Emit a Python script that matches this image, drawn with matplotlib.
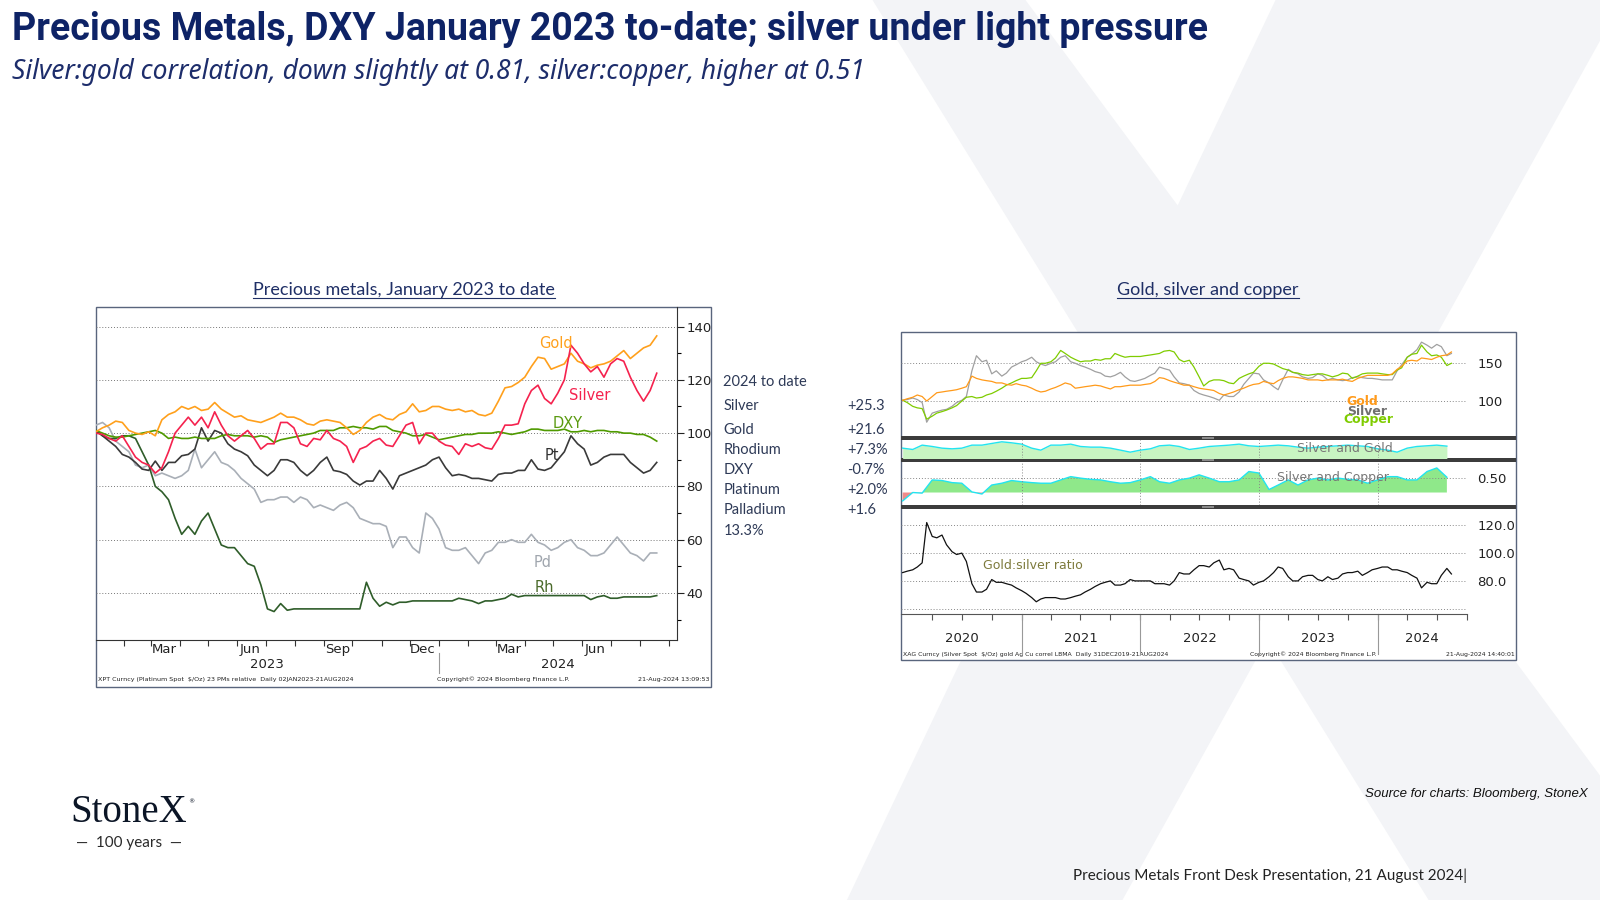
import matplotlib
matplotlib.use("Agg")
import matplotlib.pyplot as plt
import matplotlib.transforms as mtransforms
from matplotlib.patches import Rectangle, Polygon
import pandas as pd

# ---------------- data ----------------
# left chart: weekly, rebased to 100 on 2 Jan 2023
weeks = pd.date_range("2023-01-02", periods=86, freq="7D")

gold_23 = [100.5, 102, 103, 104.5, 104, 101, 100, 99.5, 100.5, 99,
           105, 107, 108, 110, 109, 110, 108.5, 109, 111.5, 109,
           107.5, 106, 106.5, 105, 104.5, 104, 105, 106, 107.5, 106,
           106, 105, 103.5, 103, 104.5, 105, 104.5, 104, 102, 99.5,
           101, 104, 106, 107, 105.5, 105, 107, 108, 111, 108,
           108.5, 110, 110, 109, 108.5, 109, 108, 108.5, 107, 106.5,
           107.5, 112, 117, 117.5, 119, 121, 125, 128.5, 128, 124,
           125, 126, 130, 127, 126, 124.5, 125.5, 126, 127, 129,
           131, 128, 130, 132, 133, 136.5]
silver_23 = [100, 99.5, 98, 97, 99, 95, 91, 89, 88, 85,
             87, 93, 100, 103, 106, 103, 106, 102, 108, 103,
             99, 97, 99, 101, 98, 94, 96, 96, 104, 104,
             102, 96, 95, 98, 97.5, 101, 98, 97, 95, 89,
             94, 95, 97, 98, 95.5, 95, 99, 103, 104, 96,
             100, 100, 97, 95.5, 95, 92, 96, 95, 96, 94.5,
             94, 98, 103, 103, 103.5, 111, 116, 118, 113, 111,
             115, 120, 133, 130, 126, 123, 125, 121, 126, 128,
             127, 121, 116, 112, 116, 122.5]
dxy_23 = [101, 100, 99, 98.5, 98.5, 99, 99.5, 100, 100.5, 101,
          100, 98, 98.5, 98, 98, 98.5, 98, 98, 98, 99,
          99.5, 99, 99, 99, 98.5, 99, 98.5, 96.5, 97.5, 98,
          98.5, 99, 99.5, 100, 101, 101, 101, 102, 102, 102.5,
          102, 102, 101.5, 102.5, 102.5, 101, 100.5, 100, 99, 99,
          99.5, 98.5, 97.5, 98, 98.5, 99, 99.5, 99.5, 100, 100,
          100, 100.5, 100, 99.5, 100, 100.5, 101.5, 101.5, 101, 101,
          101, 101.5, 100.5, 100.5, 101, 100.5, 101, 101, 100.5, 100.5,
          100, 100, 99.5, 99.5, 98.5, 97]
pt_23 = [101, 99, 97, 95, 92, 91, 89, 86.5, 86, 89.5,
         86, 89, 89, 91.5, 92, 94, 102, 97, 101, 100,
         96, 94, 93, 91.5, 88, 86, 84, 86, 90, 90,
         89, 86, 84, 86, 89, 91, 86, 85.5, 84.5, 82,
         80.5, 82, 82, 86, 83, 79, 84, 85, 86, 87,
         88, 90, 91, 87, 84, 84.5, 84, 83, 83, 82.5,
         82, 84.5, 85, 85, 86, 86, 90, 86.5, 86, 87,
         90, 93, 99, 96, 94, 88, 89, 91, 92, 92,
         92, 89, 87, 85, 86, 89]
pd_23 = [103, 104, 102, 97, 95, 93, 88, 87, 88, 84,
         85, 84, 83, 84, 86, 94, 87, 90, 93, 89,
         88, 86, 83, 81, 79, 74, 75, 75, 76, 76,
         74, 76, 75, 72, 73, 72, 71, 73, 74, 72,
         68, 67, 66, 66, 65, 57, 61, 61, 57, 55,
         70, 68, 64, 57, 56, 56, 57, 54, 51, 55,
         56, 59, 59, 60, 59, 59, 62, 59, 58, 56,
         57, 59, 60, 57, 56, 54, 54, 55, 58, 61,
         58, 55, 54, 52, 55, 55]
rh_23 = [101, 99, 98, 98, 99, 99, 98, 93, 88, 80,
         78, 75, 68, 62, 65, 62, 67, 70, 64, 58,
         57, 57, 54, 51, 50, 43, 34, 33, 36, 33.5,
         34, 34, 34, 34, 34, 34, 34, 34, 34, 34,
         34, 44, 38, 35, 36.5, 35.5, 36.5, 36.5, 37, 37,
         37, 37, 37, 37, 37, 38, 37.5, 37, 36, 37,
         37, 37.5, 38, 39.5, 38.5, 39, 39, 39, 39, 39,
         39, 39, 39, 39, 39, 37.5, 38.5, 39, 38, 38,
         38.5, 38.5, 38.5, 38.5, 38.5, 39]

ytd_names = ["2024 to date", "Silver", "Gold", "Rhodium", "DXY",
             "Platinum", "Palladium", "13.3%"]
ytd_values = ["", "+25.3", "+21.6", "+7.3%", "-0.7%", "+2.0%", "+1.6", ""]

month_lbl_dates = ["2023-03-15", "2023-06-15", "2023-09-15",
                   "2023-12-15", "2024-03-15", "2024-06-15"]
month_lbls = ["Mar", "Jun", "Sep", "Dec", "Mar", "Jun"]
year_lbl_dates_l = ["2023-07-02", "2024-05-06"]
year_lbls_l = ["2023", "2024"]

# right chart: semi-monthly, rebased to 100 on 31 Dec 2019
semi = pd.date_range("2020-01-01", "2024-08-15", freq="SMS")

gold_r = [101, 103, 105, 108, 106, 100, 106, 111, 112, 113,
          114, 115, 117, 119, 133, 130, 128, 127, 126, 124,
          124, 122, 121, 123, 121, 120, 117, 114, 112, 113,
          116, 118, 121, 124, 122, 117, 118, 119, 120, 121,
          120, 118, 116, 119, 119, 120, 121, 121, 121, 122,
          123, 126, 131, 130, 127, 125, 123, 121, 121, 119,
          117, 116, 115, 114, 110, 108, 110, 112, 115, 117,
          120, 122, 123, 126, 124, 123, 127, 130, 132, 132,
          131, 130, 128, 128, 128, 127, 128, 128, 128, 129,
          127, 126, 130, 132, 134, 134, 134, 134, 134, 136,
          142, 146, 153, 154, 153, 157, 156, 155, 158, 160,
          161, 165]
silver_r = [101, 102, 104, 102, 98, 72, 84, 86, 88, 89,
            93, 98, 101, 106, 140, 160, 152, 154, 136, 140,
            133, 137, 145, 148, 152, 154, 158, 152, 149, 147,
            150, 152, 158, 160, 152, 150, 147, 145, 142, 139,
            137, 133, 132, 134, 138, 132, 127, 126, 128, 130,
            134, 137, 145, 143, 141, 132, 124, 123, 121, 114,
            110, 108, 106, 104, 101, 108, 106, 106, 112, 122,
            130, 137, 136, 128, 124, 119, 115, 128, 142, 138,
            136, 132, 130, 131, 136, 134, 128, 130, 128, 127,
            128, 131, 132, 131, 130, 130, 129, 128, 128, 128,
            140, 148, 158, 162, 168, 178, 174, 170, 175, 172,
            160, 163]
copper_r = [101, 98, 93, 91, 90, 76, 80, 84, 86, 88,
            91, 94, 100, 105, 106, 104, 105, 108, 110, 113,
            117, 121, 124, 127, 130, 130, 131, 140, 150, 150,
            152, 157, 167, 163, 158, 155, 152, 153, 153, 155,
            154, 156, 156, 163, 160, 158, 159, 159, 159, 160,
            161, 162, 163, 166, 167, 165, 155, 152, 154, 145,
            132, 120, 126, 128, 128, 127, 124, 123, 130, 133,
            136, 138, 146, 150, 150, 149, 146, 143, 141, 138,
            137, 135, 134, 135, 136, 136, 134, 132, 134, 137,
            136, 130, 133, 136, 137, 137, 137, 136, 135, 135,
            141, 144, 158, 162, 163, 174, 165, 160, 161, 158,
            147, 150]
ratio_r = [86, 87, 88, 90, 93, 122, 112, 111, 113, 106,
           101, 99, 100, 94, 78, 72, 72, 74, 81, 79,
           79, 78, 77, 75, 73, 71, 68, 65, 67, 68,
           68, 68, 67, 67, 68, 69, 70, 72, 74, 76,
           78, 79, 80, 77, 77, 78, 81, 80, 80, 80,
           80, 78, 78, 78, 77, 80, 86, 85, 85, 88,
           91, 91, 90, 93, 95, 88, 89, 88, 82, 81,
           80, 77, 79, 80, 83, 86, 90, 89, 83, 80,
           80, 83, 84, 84, 81, 80, 83, 81, 82, 85,
           86, 86, 87, 84, 86, 88, 89, 90, 90, 88,
           88, 87, 86, 84, 82, 75, 79, 78, 78, 84,
           89, 85]

# rolling correlations, monthly
months = pd.date_range("2020-01-01", periods=56, freq="MS")
corr_sg = [0.75, 0.71, 0.84, 0.80, 0.75, 0.73, 0.75, 0.84, 0.84, 0.89,
           0.94, 0.91, 0.87, 0.75, 0.69, 0.84, 0.84, 0.87, 0.80, 0.78,
           0.78, 0.75, 0.69, 0.63, 0.69, 0.73, 0.82, 0.84, 0.80, 0.71,
           0.75, 0.80, 0.82, 0.84, 0.87, 0.82, 0.80, 0.82, 0.84, 0.82,
           0.78, 0.75, 0.78, 0.80, 0.82, 0.84, 0.82, 0.80, 0.73, 0.69,
           0.63, 0.75, 0.80, 0.82, 0.84, 0.81]
corr_sc = [-0.28, 0.00, -0.02, 0.42, 0.40, 0.33, 0.31, 0.02, -0.05, 0.25,
           0.31, 0.40, 0.36, 0.33, 0.31, 0.31, 0.42, 0.53, 0.48, 0.44,
           0.42, 0.36, 0.31, 0.33, 0.42, 0.53, 0.36, 0.31, 0.42, 0.48,
           0.59, 0.48, 0.36, 0.36, 0.42, 0.70, 0.65, 0.10, 0.25, 0.42,
           0.25, 0.42, 0.48, 0.42, 0.48, 0.44, 0.42, 0.31, 0.42, 0.53,
           0.53, 0.42, 0.42, 0.70, 0.82, 0.51]

year_starts_r = ["2021-01-01", "2022-01-01", "2023-01-01", "2024-01-01"]
year_lbl_dates_r = ["2020-07-01", "2021-07-02", "2022-07-02", "2023-07-02", "2024-05-17"]
year_lbls_r = ["2020", "2021", "2022", "2023", "2024"]

# ---------------- layout helpers ----------------
W, H = 1568, 882          # layout measured in slide pixels


def box(x0, y0, x1, y1):
    return [x0 / W, 1 - y1 / H, (x1 - x0) / W, (y1 - y0) / H]


NAVY = "#0e2366"
BBG = "DejaVu Sans"
SLIDE = "Lato"

fig = plt.figure(figsize=(16, 9), dpi=100)
bg = fig.add_axes([0, 0, 1, 1])
bg.set_xlim(0, W)
bg.set_ylim(H, 0)
bg.axis("off")

# faint StoneX "X" in the background
bg.add_patch(Polygon([(855, 0), (1005, 0), (1568, 760), (1568, 882), (1400, 882)],
                     closed=True, fc="#f3f4f7", ec="none", zorder=0))
bg.add_patch(Polygon([(1250, 0), (1568, 0), (1568, 40), (1100, 882), (830, 882)],
                     closed=True, fc="#f3f4f7", ec="none", zorder=0))

# titles
bg.text(12, 39, "Precious Metals, DXY January 2023 to-date; silver under light pressure",
        family="Roboto", weight="bold", fontsize=27, color=NAVY, va="baseline")
bg.text(12, 77, "Silver:gold correlation, down slightly at 0.81, silver:copper, higher at 0.51",
        family="Noto Sans", style="italic", fontsize=19, color="#1d2d6b", va="baseline")

t_left = bg.text(396, 289, "Precious metals, January 2023 to date", family=SLIDE,
                 fontsize=13, color="#1f2f66", ha="center", va="baseline")
t_right = bg.text(1184, 289, "Gold, silver and copper", family=SLIDE,
                  fontsize=13, color="#1f2f66", ha="center", va="baseline")

# chart frames
bg.add_patch(Rectangle((94, 301), 603, 372, fc="white", ec="#59657d", lw=1, zorder=1))
bg.add_patch(Rectangle((883, 325), 603, 322, fc="white", ec="#59657d", lw=1, zorder=1))

# ytd block
ytd_rows = [374, 398, 421, 441, 461, 480, 500, 520]
for yy, name, val in zip(ytd_rows, ytd_names, ytd_values):
    bg.text(709, yy, name, family=SLIDE, fontsize=10.5, color="#2e3a57", va="center")
    if val:
        bg.text(830, yy, val, family=SLIDE, fontsize=10.5, color="#2e3a57", va="center")

# ---------------- left chart ----------------
axL = fig.add_axes(box(94, 301, 663, 627))
axL.set_facecolor("none")
axL.spines["left"].set_visible(False)
axL.spines["top"].set_visible(False)
axL.spines["right"].set_color("#333333")
axL.spines["bottom"].set_color("#333333")
axL.plot(weeks, pd_23, color="#a9afb7", lw=1.2)
axL.plot(weeks, rh_23, color="#2f5d2a", lw=1.2)
axL.plot(weeks, pt_23, color="#3a3a3a", lw=1.2)
axL.plot(weeks, dxy_23, color="#4f9a00", lw=1.2)
axL.plot(weeks, gold_23, color="#ffa01c", lw=1.2)
axL.plot(weeks, silver_23, color="#f5224e", lw=1.2)

axL.set_xlim(pd.Timestamp("2023-01-02"), pd.Timestamp("2024-09-09"))
axL.set_ylim(22.4, 147.3)
axL.yaxis.tick_right()
axL.set_yticks([40, 60, 80, 100, 120, 140])
axL.set_yticks([30, 50, 70, 90, 110, 130], minor=True)
axL.tick_params(axis="y", which="major", length=5, width=0.8, labelsize=9.5, pad=2,
                colors="#222222")
axL.tick_params(axis="y", which="minor", length=3, width=0.8)
axL.yaxis.grid(True, which="major", linestyle=(0, (1, 2)), color="#777777", lw=0.7)
axL.set_xticks(pd.date_range("2023-02-01", "2024-09-01", freq="MS"))
axL.set_xticklabels([])
axL.tick_params(axis="x", length=4, width=0.8, color="#333333")

trL = mtransforms.blended_transform_factory(axL.transData, axL.transAxes)
for d, lab in zip(month_lbl_dates, month_lbls):
    axL.text(pd.Timestamp(d), -0.03, lab, transform=trL, ha="center", va="center",
             family=BBG, fontsize=9.5, color="#222222")
for d, lab in zip(year_lbl_dates_l, year_lbls_l):
    axL.text(pd.Timestamp(d), -0.074, lab, transform=trL, ha="center", va="center",
             family=BBG, fontsize=9.5, color="#222222")
axL.plot([pd.Timestamp("2024-01-01")] * 2, [-0.04, -0.10], transform=trL,
         color="#999999", lw=0.8, clip_on=False)

lbl = dict(transform=axL.transAxes, family=BBG, fontsize=10.5, ha="center", va="center")
axL.text(0.793, 0.89, "Gold", color="#ffa01c", **lbl)
axL.text(0.851, 0.733, "Silver", color="#f5224e", **lbl)
axL.text(0.812, 0.650, "DXY", color="#5a9a10", **lbl)
axL.text(0.786, 0.555, "Pt", color="#333333", **lbl)
axL.text(0.770, 0.233, "Pd", color="#a0a6ae", **lbl)
axL.text(0.773, 0.156, "Rh", color="#4a6a2a", **lbl)

bg.text(96, 666, "XPT Curncy (Platinum Spot  $/Oz) 23 PMs relative  Daily 02JAN2023-21AUG2024",
        family=BBG, fontsize=4.6, color="#222222", va="center")
bg.text(428, 666, "Copyright\u00a9 2024 Bloomberg Finance L.P.", family=BBG, fontsize=4.6,
        color="#222222", va="center")
bg.text(695, 666, "21-Aug-2024 13:09:53", family=BBG, fontsize=4.6, color="#222222",
        va="center", ha="right")

# ---------------- right chart ----------------
x_lo, x_hi = pd.Timestamp("2019-12-27"), pd.Timestamp("2024-10-03")
ax1 = fig.add_axes(box(883, 325, 1438, 427))
ax2 = fig.add_axes(box(883, 431, 1438, 449))
ax3 = fig.add_axes(box(883, 453, 1438, 495))
ax4 = fig.add_axes(box(883, 499, 1438, 602))
for ax in (ax1, ax2, ax3, ax4):
    ax.set_facecolor("none")
    for s in ax.spines.values():
        s.set_visible(False)
    ax.set_xlim(x_lo, x_hi)
    ax.yaxis.tick_right()
    ax.tick_params(axis="y", length=0, labelsize=9.5, pad=7, colors="#222222")
    ax.tick_params(axis="x", length=0, labelbottom=False)
    ax.set_xticks([])
dot = dict(linestyle=(0, (1, 2)), color="#888888", lw=0.7)

ax1.set_ylim(54.1, 191.9)
ax1.set_yticks([100, 150])
ax1.hlines([100, 150], x_lo, x_hi, **dot)
ax1.plot(semi, silver_r, color="#a0a0a0", lw=0.9)
ax1.plot(semi, copper_r, color="#7fcc00", lw=0.9)
ax1.plot(semi, gold_r, color="#ff9a1a", lw=0.9)
b1 = dict(transform=ax1.transAxes, family=BBG, weight="bold", fontsize=9,
          ha="center", va="center")
ax1.text(0.814, 0.333, "Gold", color="#ff9a1a", **b1)
ax1.text(0.823, 0.235, "Silver", color="#707070", **b1)
ax1.text(0.825, 0.160, "Copper", color="#7fcc00", **b1)

ax2.set_ylim(0.45, 1.0)
ax2.set_yticks([])
ax2.fill_between(months, corr_sg, 0, color="#c8f5c2", lw=0)
ax2.plot(months, corr_sg, color="#22e4f0", lw=1.0)
ax2.text(0.784, 0.55, "Silver and Gold", transform=ax2.transAxes, family=BBG,
         fontsize=9, color="#777777", ha="center", va="center")

ax3.set_ylim(-0.42, 1.01)
ax3.set_yticks([0.5])
ax3.set_yticklabels(["0.50"])
ax3.hlines([0.5], x_lo, x_hi, **dot)
ax3.fill_between(months, corr_sc, 0, where=[v >= 0 for v in corr_sc],
                 interpolate=True, color="#8fe88a", lw=0)
ax3.fill_between(months, corr_sc, 0, where=[v < 0 for v in corr_sc],
                 interpolate=True, color="#f08a8a", lw=0)
ax3.plot(months, corr_sc, color="#22e4f0", lw=1.0)
ax3.text(0.762, 0.64, "Silver and Copper", transform=ax3.transAxes, family=BBG,
         fontsize=9, color="#777777", ha="center", va="center")

for ax in (ax2, ax3):
    for d in year_starts_r:
        ax.axvline(pd.Timestamp(d), **dot)

ax4.set_ylim(56, 131.6)
ax4.set_yticks([80, 100, 120])
ax4.set_yticklabels(["80.0", "100.0", "120.0"])
ax4.hlines([60, 80, 100, 120], x_lo, x_hi, **dot)
ax4.plot(semi, ratio_r, color="#111111", lw=0.9)
ax4.text(0.232, 0.465, "Gold:silver ratio", transform=ax4.transAxes, family=BBG,
         fontsize=9, color="#7d7a3c", ha="center", va="center")
ax4.spines["bottom"].set_visible(True)
ax4.spines["bottom"].set_color("#555555")
ax4.set_xticks(pd.date_range("2020-04-01", "2024-10-01", freq="QS"))
ax4.tick_params(axis="x", length=4, width=0.8, color="#555555", labelbottom=False)

tr4 = mtransforms.blended_transform_factory(ax4.transData, ax4.transAxes)
for d in year_starts_r:
    ax4.plot([pd.Timestamp(d)] * 2, [0, -0.38], transform=tr4, color="#999999",
             lw=0.8, clip_on=False)
for d, lab in zip(year_lbl_dates_r, year_lbls_r):
    ax4.text(pd.Timestamp(d), -0.233, lab, transform=tr4, ha="center", va="center",
             family=BBG, fontsize=9.5, color="#222222")

# panel separators
for y0 in (427, 449, 495):
    bg.add_patch(Rectangle((883, y0), 603, 4, fc="#3c3c3c", ec="none", zorder=2))
    bg.add_patch(Rectangle((1178, y0 + 1), 12, 2, fc="#8a8a8a", ec="none", zorder=3))

bg.text(885, 641, "XAG Curncy (Silver Spot  $/Oz) gold Ag Cu correl LBMA  Daily 31DEC2019-21AUG2024",
        family=BBG, fontsize=4.4, color="#222222", va="center")
bg.text(1225, 641, "Copyright\u00a9 2024 Bloomberg Finance L.P.", family=BBG, fontsize=4.4,
        color="#222222", va="center")
bg.text(1484, 641, "21-Aug-2024 14:40:01", family=BBG, fontsize=4.4, color="#222222",
        va="center", ha="right")

# ---------------- footer ----------------
bg.text(1556, 778, "Source for charts: Bloomberg, StoneX", family="Liberation Sans",
        style="italic", fontsize=9.5, color="#111111", ha="right", va="center")
bg.text(1052, 858, "Precious Metals Front Desk Presentation, 21 August 2024|", family=SLIDE,
        fontsize=11, color="#222222", va="center")
bg.text(69, 796, "StoneX", family="Liberation Serif", fontsize=28, color="#0b1526",
        va="center")
bg.text(184, 786, "\u00ae", family=BBG, fontsize=4.5, color="#0b1526", va="center")
bg.text(126, 826, "\u2014  100 years  \u2014", family=SLIDE, fontsize=11,
        color="#2a2a2a", ha="center", va="center")

# underline the two chart titles
fig.canvas.draw()
inv = bg.transData.inverted()
for t in (t_left, t_right):
    bb = t.get_window_extent()
    (xa, _), (xb, _) = inv.transform([[bb.x0, bb.y0], [bb.x1, bb.y1]])
    bg.plot([xa, xb], [292.5, 292.5], color="#1f2f66", lw=0.8)

fig.savefig("out.png", dpi=100)
